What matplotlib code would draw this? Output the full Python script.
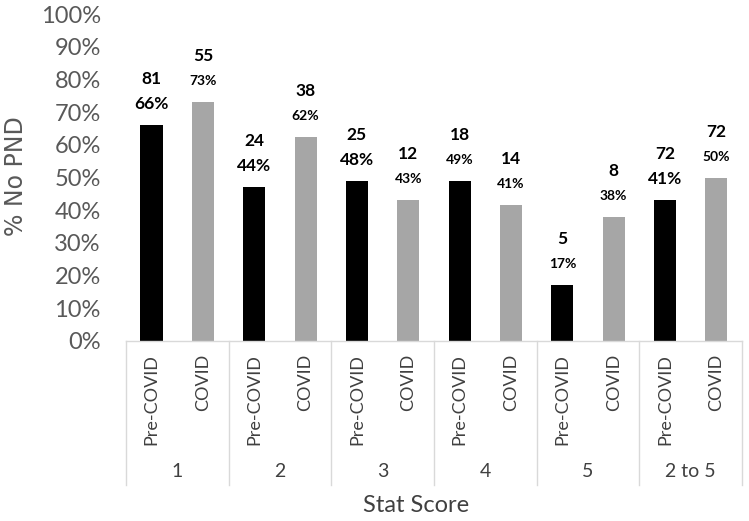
#!/usr/bin/env python3

import numpy as np
import matplotlib.pyplot as plt

# Stat score groups and periods
groups = ["1", "2", "3", "4", "5", "2 to 5"]
periods = ["Pre-COVID", "COVID"]

# bar heights as drawn (%)
pre_height = [66, 47, 49, 49, 17, 43]
covid_height = [73, 62.5, 43, 41.5, 38, 50]

# label texts
pre_n = ["81", "24", "25", "18", "5", "72"]
pre_pct = ["66%", "44%", "48%", "49%", "17%", "41%"]
covid_n = ["55", "38", "12", "14", "8", "72"]
covid_pct = ["73%", "62%", "43%", "41%", "38%", "50%"]
pre_small = [False, False, False, True, True, False]

FONT = ["Lato", "DejaVu Sans"]
plt.rcParams['font.family'] = FONT


def main():
    fig = plt.figure(figsize=(7.49, 5.21), dpi=100)
    ax = fig.add_axes([0.168, 0.3455, 0.8227, 0.6275])

    ng = len(groups)
    x = np.arange(ng * 2)
    heights = []
    colors = []
    for i in range(ng):
        heights += [pre_height[i], covid_height[i]]
        colors += ["#000000", "#a6a6a6"]

    bars = ax.bar(x, heights, width=0.43, color=colors, zorder=2)

    # data labels: count on top, percent below it
    for i in range(ng):
        for j, (n, p, small) in enumerate([(pre_n[i], pre_pct[i], pre_small[i]),
                                           (covid_n[i], covid_pct[i], True)]):
            b = bars[2 * i + j]
            xc = b.get_x() + b.get_width() / 2
            top = b.get_height()
            ax.annotate(p, (xc, top), xytext=(0, 21), textcoords='offset pixels',
                        ha='center', va='center', fontweight='bold',
                        fontsize=10 if small else 12.5, color="#000000")
            ax.annotate(n, (xc, top), xytext=(0, 46), textcoords='offset pixels',
                        ha='center', va='center', fontweight='bold',
                        fontsize=12.5, color="#000000")

    ax.set_xlim(-0.5, ng * 2 - 0.5)
    ax.set_ylim(0, 100)
    ax.set_yticks(np.arange(0, 101, 10))
    ax.set_yticklabels([f"{v}%" for v in range(0, 101, 10)])
    ax.tick_params(axis='y', length=0, pad=18, labelsize=17, labelcolor="#595959")
    ax.tick_params(axis='x', length=0, labelbottom=False)

    for s in ["top", "right", "left"]:
        ax.spines[s].set_visible(False)
    ax.spines["bottom"].set_color("#d9d9d9")
    ax.spines["bottom"].set_linewidth(1.0)

    # category axis: period labels, group labels and separators
    trans = ax.get_xaxis_transform()
    for k in range(ng * 2):
        ax.text(x[k], -0.04, periods[k % 2], transform=trans, rotation=90,
                ha='center', va='top', fontsize=13, color="#404040")
    for i in range(ng):
        ax.text(2 * i + 0.5, -0.40, groups[i], transform=trans,
                ha='center', va='center', fontsize=14, color="#404040")
    for i in range(ng + 1):
        ax.plot([2 * i - 0.5, 2 * i - 0.5], [0, -0.44], transform=trans,
                color="#d9d9d9", lw=1.0, clip_on=False)

    fig.text(0.5554, 0.03, "Stat Score", ha='center', va='center',
             fontsize=17, color="#404040")
    fig.text(0.022, 0.662, "% No PND", rotation=90, ha='center', va='center',
             fontsize=17, color="#595959", family=["DejaVu Sans"])

    fig.savefig("out.png", dpi=100)


if __name__ == "__main__":
    main()
